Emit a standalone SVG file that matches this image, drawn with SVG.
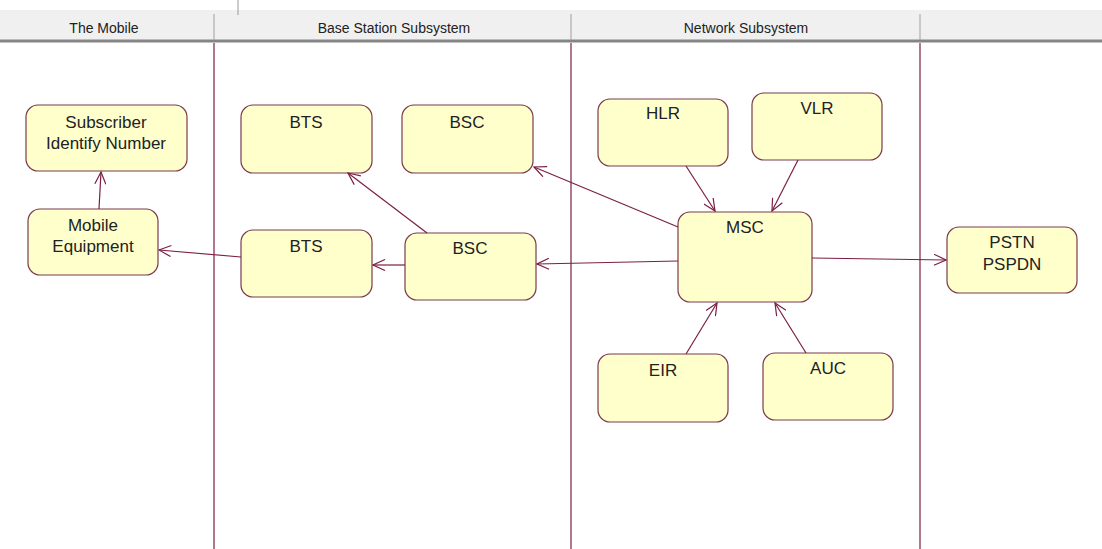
<svg xmlns="http://www.w3.org/2000/svg" width="1102" height="549" viewBox="0 0 1102 549">
<style>
.hdr{font-family:"Liberation Sans",Arial,sans-serif;font-size:14px;fill:#222;text-anchor:middle}
.node rect{fill:#ffffcc;stroke:#7b3a4c;stroke-width:1.2}
.node text{font-family:"Liberation Sans",Arial,sans-serif;font-size:17px;fill:#222;text-anchor:middle}
.lane{stroke:#7b1f45;stroke-width:1.2}
.conn line{stroke:#7b1f45;stroke-width:1.2;fill:none;marker-end:url(#arr)}
</style>
<defs>
<marker id="arr" viewBox="0 0 14 12" refX="13" refY="6" markerWidth="14" markerHeight="12" markerUnits="userSpaceOnUse" orient="auto">
<path d="M1,0.5 L13,6 L1,11.5" fill="none" stroke="#7b1f45" stroke-width="1.2"/>
</marker>
</defs>
<rect width="1102" height="549" fill="#ffffff"/>
<g id="header">
<rect x="0" y="10" width="1102" height="30" fill="#f0f0f0"/>
<line x1="238" y1="0" x2="238" y2="15" stroke="#999" stroke-width="1"/>
<line x1="0" y1="41" x2="1102" y2="41" stroke="#858585" stroke-width="3"/>
<line x1="214" y1="14" x2="214" y2="40" stroke="#a0a0a0"/>
<line x1="571" y1="14" x2="571" y2="40" stroke="#a0a0a0"/>
<line x1="920" y1="14" x2="920" y2="40" stroke="#a0a0a0"/>
<text class="hdr" x="104" y="33">The Mobile</text>
<text class="hdr" x="394" y="33">Base Station Subsystem</text>
<text class="hdr" x="746" y="33">Network Subsystem</text>
</g>
<g id="lanes">
<line class="lane" x1="214" y1="43" x2="214" y2="549"/>
<line class="lane" x1="571" y1="43" x2="571" y2="549"/>
<line class="lane" x1="920" y1="43" x2="920" y2="549"/>
</g>
<g id="sin" class="node"><rect x="26" y="105" width="161" height="66" rx="12"/><text x="106" y="128">Subscriber</text><text x="106" y="149">Identify Number</text></g>
<g id="me" class="node"><rect x="28" y="209" width="130" height="66" rx="12"/><text x="93" y="231">Mobile</text><text x="93" y="252">Equipment</text></g>
<g id="bts1" class="node"><rect x="241" y="105" width="131" height="68" rx="12"/><text x="306" y="128">BTS</text></g>
<g id="bsc1" class="node"><rect x="402" y="105" width="131" height="68" rx="12"/><text x="467" y="128">BSC</text></g>
<g id="bts2" class="node"><rect x="241" y="230" width="131" height="67" rx="12"/><text x="306" y="252">BTS</text></g>
<g id="bsc2" class="node"><rect x="405" y="233" width="131" height="67" rx="12"/><text x="470" y="254">BSC</text></g>
<g id="hlr" class="node"><rect x="598" y="99" width="130" height="67" rx="12"/><text x="663" y="119">HLR</text></g>
<g id="vlr" class="node"><rect x="752" y="93" width="130" height="67" rx="12"/><text x="817" y="114">VLR</text></g>
<g id="msc" class="node"><rect x="678" y="212" width="134" height="90" rx="12"/><text x="745" y="233">MSC</text></g>
<g id="eir" class="node"><rect x="598" y="354" width="130" height="68" rx="12"/><text x="663" y="376">EIR</text></g>
<g id="auc" class="node"><rect x="763" y="353" width="130" height="67" rx="12"/><text x="828" y="374">AUC</text></g>
<g id="pstn" class="node"><rect x="947" y="227" width="130" height="66" rx="12"/><text x="1012" y="248">PSTN</text><text x="1012" y="270">PSPDN</text></g>
<g id="connectors" class="conn">
<line x1="99" y1="209" x2="101" y2="172"/>
<line x1="241" y1="257" x2="159" y2="250"/>
<line x1="427" y1="233" x2="348" y2="173"/>
<line x1="405" y1="265" x2="373" y2="265"/>
<line x1="678" y1="227" x2="534" y2="167"/>
<line x1="678" y1="261" x2="537" y2="264"/>
<line x1="686" y1="166" x2="715" y2="211"/>
<line x1="798" y1="160" x2="772" y2="211"/>
<line x1="686" y1="354" x2="717" y2="303"/>
<line x1="806" y1="353" x2="775" y2="303"/>
<line x1="812" y1="258" x2="946" y2="260"/>
</g>
</svg>
